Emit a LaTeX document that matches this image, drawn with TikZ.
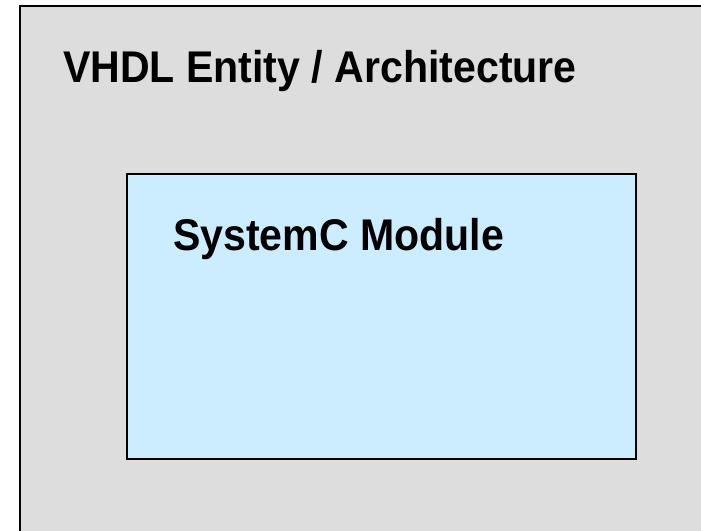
\documentclass[tikz,border=0pt]{standalone}
\usepackage{fontspec}
\setmainfont{Liberation Sans}
\newfontfamily\narrowsans[FakeStretch=0.925]{Liberation Sans}
\definecolor{entitygrey}{HTML}{DDDDDD}
\definecolor{modblue}{HTML}{CCECFF}
\begin{document}
\begin{tikzpicture}[x=1pt,y=-1pt,
  frame/.style={draw=black,line width=2pt},
  label/.style={anchor=base west,inner sep=0pt,font=\narrowsans\bfseries\fontsize{44.4}{50}\selectfont}]
  \useasboundingbox (0,0) rectangle (701,530);
  % outer entity / architecture frame, running off the page edges
  \path[frame,fill=entitygrey] (20,6) rectangle (712,540);
  \node[label] (entity) at (63,82) {VHDL Entity / Architecture};
  % embedded SystemC module
  \path[frame,fill=modblue] (127,174) rectangle (636,459);
  \node[label] (module) at (173,250) {SystemC Module};
\end{tikzpicture}
\end{document}
